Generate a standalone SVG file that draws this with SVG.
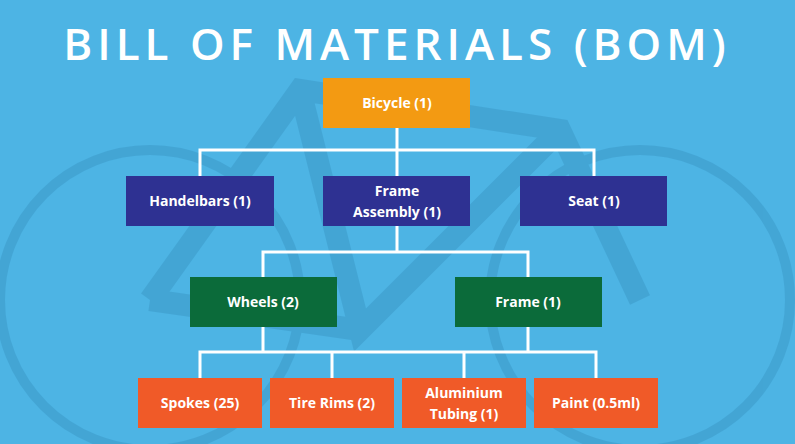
<svg xmlns="http://www.w3.org/2000/svg" width="795" height="444" viewBox="0 0 795 444">
<style>
.t{font-family:"Open Sans","Liberation Sans",sans-serif;font-weight:bold;font-size:14px;fill:#fff;text-anchor:middle}
.c{stroke:#fff;stroke-width:3;fill:none}
.bk{stroke:#3E9CCB;fill:none}
</style>
<rect width="795" height="444" fill="#4DB4E4"/>
<g opacity="0.6">
<circle cx="150" cy="300" r="150" class="bk" stroke-width="10"/>
<circle cx="640" cy="300" r="150" class="bk" stroke-width="10"/>
<path d="M150 300 L300 90 L560 130 L640 300 M300 90 L360 330 L560 130 M360 330 L150 300" class="bk" stroke-width="22"/>
</g>
<text x="397" y="60" style="font-family:'Open Sans','Liberation Sans',sans-serif;font-weight:600;font-size:44px;fill:#fff;text-anchor:middle;letter-spacing:5px">BILL OF MATERIALS (BOM)</text>
<g id="connectors">
<path class="c" d="M397 128V150M200 176V150H594V176M397 150V176"/>
<path class="c" d="M397 226V252M263 277V252H528V277"/>
<path class="c" d="M263 327V352M528 327V352M200 378V352H596V378M332 352V378M464 352V378"/>
</g>
<g id="bicycle"><rect x="323" y="78" width="147" height="50" fill="#F39A12"/><text class="t" x="397" y="108">Bicycle (1)</text></g>
<g id="handlebars"><rect x="126" y="176" width="148" height="50" fill="#2E3192"/><text class="t" x="200" y="206">Handelbars (1)</text></g>
<g id="frameassembly"><rect x="323" y="176" width="147" height="50" fill="#2E3192"/><text class="t" x="397" y="196">Frame</text><text class="t" x="397" y="217">Assembly (1)</text></g>
<g id="seat"><rect x="520" y="176" width="147" height="50" fill="#2E3192"/><text class="t" x="594" y="206">Seat (1)</text></g>
<g id="wheels"><rect x="190" y="277" width="147" height="50" fill="#0B6B3A"/><text class="t" x="263" y="307">Wheels (2)</text></g>
<g id="frame"><rect x="455" y="277" width="147" height="50" fill="#0B6B3A"/><text class="t" x="528" y="307">Frame (1)</text></g>
<g id="spokes"><rect x="138" y="378" width="124" height="50" fill="#F05A28"/><text class="t" x="200" y="408">Spokes (25)</text></g>
<g id="tirerims"><rect x="270" y="378" width="124" height="50" fill="#F05A28"/><text class="t" x="332" y="408">Tire Rims (2)</text></g>
<g id="tubing"><rect x="402" y="378" width="124" height="50" fill="#F05A28"/><text class="t" x="464" y="398">Aluminium</text><text class="t" x="464" y="419">Tubing (1)</text></g>
<g id="paint"><rect x="534" y="378" width="124" height="50" fill="#F05A28"/><text class="t" x="596" y="408">Paint (0.5ml)</text></g>
</svg>
